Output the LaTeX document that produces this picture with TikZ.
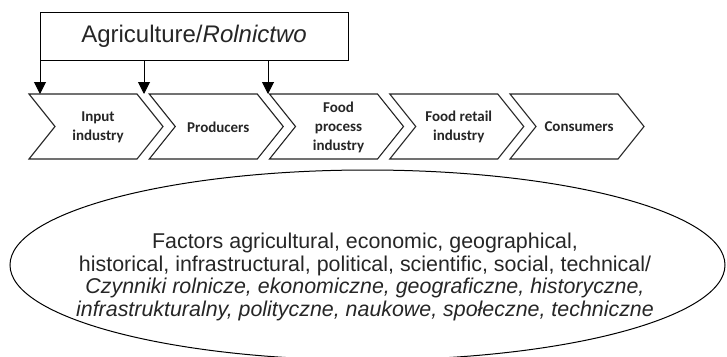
\documentclass[tikz,border=0pt]{standalone}
\usepackage{fontspec}
\setmainfont{Liberation Sans}
\newfontfamily\calib{Carlito}
\usetikzlibrary{arrows.meta,shapes.geometric}
\begin{document}
\begin{tikzpicture}[x=1pt,y=-1pt,
  chev/.style={draw=black!85,line width=1.1pt,line join=miter,fill=white},
  chevtext/.style={font=\calib\bfseries\fontsize{15}{19}\selectfont,align=center,text=black!85},
  conn/.style={draw=black,line width=1pt,-{Triangle[length=12pt,width=12pt]}},
  agribox/.style={draw=black,line width=1pt,minimum width=308pt,minimum height=48pt,inner sep=0pt,font=\fontsize{24}{27}\selectfont,text=black!85}]
\useasboundingbox (0,0) rectangle (727,356);
\node[agribox] (agri) at (194,36) {Agriculture/\textit{Rolnictwo}};
\foreach \i/\t in {1/{Input\\industry},2/{Producers},3/{Food\\process\\industry},4/{Food retail\\industry},5/{Consumers}}{
  \pgfmathsetmacro{\xo}{29+120.25*(\i-1)}
  \path[chev] (\xo,94) -- ++(108,0) -- ++(26,32.5) -- ++(-26,32.5) -- ++(-108,0) -- ++(26,-32.5) -- cycle;
  \node[chevtext] (c\i) at (\xo+69,127) {\t};
}
\coordinate (s1) at (40,60);
\coordinate (s2) at (144,60);
\coordinate (s3) at (268,60);
\coordinate (e1) at (40,94);
\coordinate (e2) at (144,94);
\coordinate (e3) at (268,94);
\draw[conn] (s1) -- (e1);
\draw[conn] (s2) -- (e2);
\draw[conn] (s3) -- (e3);
\node[ellipse,draw=black,line width=1pt,minimum width=715pt,minimum height=190pt,inner sep=0pt] (oval) at (367.5,265) {};
\node[align=center,font=\fontsize{21.4}{22.5}\selectfont,text=black!85] (factors) at (365,277)
 {Factors agricultural, economic, geographical,\\
  historical, infrastructural, political, scientific, social, technical/\\
  \textit{Czynniki rolnicze, ekonomiczne, geograficzne, historyczne,}\\
  \textit{infrastrukturalny, polityczne, naukowe, społeczne, techniczne}};
\end{tikzpicture}
\end{document}
